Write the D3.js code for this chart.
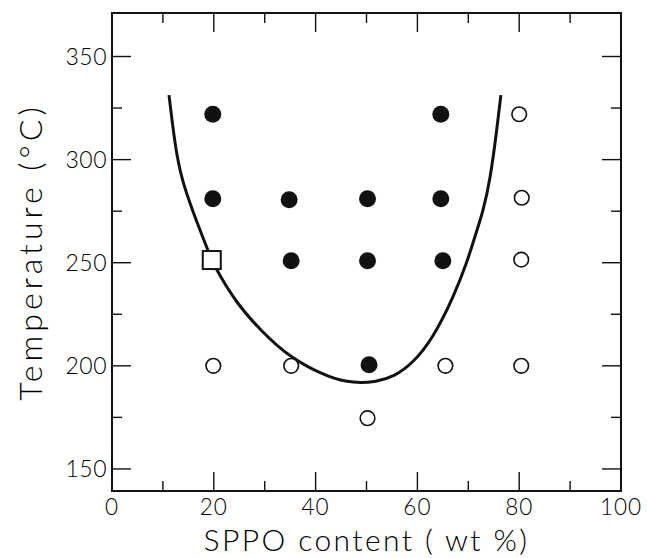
<!DOCTYPE html>
<html>
<head>
<meta charset="utf-8">
<script src="https://cdn.jsdelivr.net/npm/d3@7"></script>
<style>
  html, body { margin: 0; padding: 0; background: #fff; }
  svg text { font-family: "Lato", "DejaVu Sans", sans-serif; font-weight: 300; fill: #000; }
</style>
</head>
<body>
<svg id="chart" width="647" height="558"></svg>
<script>
// Phase data: SPPO content (wt %) vs temperature (°C)
const filledX = [19.8, 64.6, 19.8, 34.8, 50.2, 64.6, 35.2, 50.2, 65.0, 50.5];
const filledY = [322, 322, 281, 280.5, 281, 281, 251, 251, 251, 200.5];

const openX = [80.0, 80.5, 80.4, 80.4, 65.5, 35.2, 19.9, 50.2];
const openY = [322, 281.5, 251.5, 200, 200, 200, 200, 174.6];

const squareX = [19.6];
const squareY = [251.3];

// Boundary curve
const curveX = [11.2, 12.4, 13.7, 16.0, 17.8, 19.6, 20.9, 24.5, 29.1, 35.0, 42.8, 47.4,
                52.0, 55.5, 59.0, 63.1, 67.1, 69.7, 71.7, 72.8, 74.3, 75.6, 76.4];
const curveY = [331.3, 306.3, 290.1, 274.1, 262.6, 251.3, 244.9, 230.3, 217.4, 203.7, 194.0, 191.6,
                192.2, 195.0, 201.0, 213.5, 233.5, 249.7, 265.9, 274.0, 290.1, 314.4, 331.3];

const xMajor = [0, 20, 40, 60, 80, 100];
const xMinor = [10, 30, 50, 70, 90];
const yMajor = [150, 200, 250, 300, 350];
const yMinor = [175, 225, 275, 325];

const xTitle = "SPPO content ( wt %)";
const yTitle = "Temperature (°C)";

const svg = d3.select("#chart");
const plotL = 112, plotR = 621, plotT = 13, plotB = 491;

const x = d3.scaleLinear().domain([0, 100]).range([plotL, plotR]);
const y = d3.scaleLinear().domain([139.3, 371.1]).range([plotB, plotT]);

const g = svg.append("g");

// Frame
g.append("rect")
  .attr("x", plotL).attr("y", plotT)
  .attr("width", plotR - plotL).attr("height", plotB - plotT)
  .attr("fill", "none").attr("stroke", "#111").attr("stroke-width", 2);

// Inward ticks on all four sides
function xTicks(vals, len) {
  vals.forEach(v => {
    g.append("line").attr("x1", x(v)).attr("x2", x(v)).attr("y1", plotB).attr("y2", plotB - len)
      .attr("stroke", "#111").attr("stroke-width", 1.4);
    g.append("line").attr("x1", x(v)).attr("x2", x(v)).attr("y1", plotT).attr("y2", plotT + len)
      .attr("stroke", "#111").attr("stroke-width", 1.4);
  });
}
function yTicks(vals, len) {
  vals.forEach(v => {
    g.append("line").attr("x1", plotL).attr("x2", plotL + len).attr("y1", y(v)).attr("y2", y(v))
      .attr("stroke", "#111").attr("stroke-width", 1.4);
    g.append("line").attr("x1", plotR).attr("x2", plotR - len).attr("y1", y(v)).attr("y2", y(v))
      .attr("stroke", "#111").attr("stroke-width", 1.4);
  });
}
xTicks(xMajor.filter(v => v > 0 && v < 100), 19);
xTicks(xMinor, 10);
yTicks(yMajor, 19);
yTicks(yMinor, 10);

// Tick labels
g.selectAll(".xl").data(xMajor).join("text")
  .attr("x", d => x(d)).attr("y", 515)
  .attr("text-anchor", "middle")
  .attr("font-size", 22.5)
  .attr("letter-spacing", 1)
  .text(d => d);

g.selectAll(".yl").data(yMajor).join("text")
  .attr("x", 107).attr("y", d => y(d) + 8)
  .attr("text-anchor", "end")
  .attr("font-size", 23)
  .attr("letter-spacing", 0.5)
  .text(d => d);

// Axis titles
svg.append("text")
  .attr("x", (plotL + plotR) / 2).attr("y", 551)
  .attr("text-anchor", "middle")
  .attr("font-size", 30)
  .attr("letter-spacing", 2.4)
  .text(xTitle);

svg.append("text")
  .attr("transform", `translate(42, ${(plotT + plotB) / 2}) rotate(-90)`)
  .attr("text-anchor", "middle")
  .attr("font-size", 32)
  .attr("letter-spacing", 4)
  .text(yTitle);

// Boundary curve
const curvePts = curveX.map((v, i) => [v, curveY[i]]);
g.append("path")
  .datum(curvePts)
  .attr("d", d3.line().x(d => x(d[0])).y(d => y(d[1])).curve(d3.curveBasis))
  .attr("fill", "none").attr("stroke", "#111").attr("stroke-width", 3);

// Open circles
g.selectAll(".open").data(openX.map((v, i) => [v, openY[i]])).join("circle")
  .attr("cx", d => x(d[0])).attr("cy", d => y(d[1])).attr("r", 7.3)
  .attr("fill", "#fff").attr("stroke", "#111").attr("stroke-width", 1.6);

// Filled circles
g.selectAll(".filled").data(filledX.map((v, i) => [v, filledY[i]])).join("circle")
  .attr("cx", d => x(d[0])).attr("cy", d => y(d[1])).attr("r", 8.5)
  .attr("fill", "#111");

// Open square
g.selectAll(".sq").data(squareX.map((v, i) => [v, squareY[i]])).join("rect")
  .attr("x", d => x(d[0]) - 9).attr("y", d => y(d[1]) - 9)
  .attr("width", 18).attr("height", 18)
  .attr("fill", "#fff").attr("stroke", "#111").attr("stroke-width", 2);
</script>
</body>
</html>
